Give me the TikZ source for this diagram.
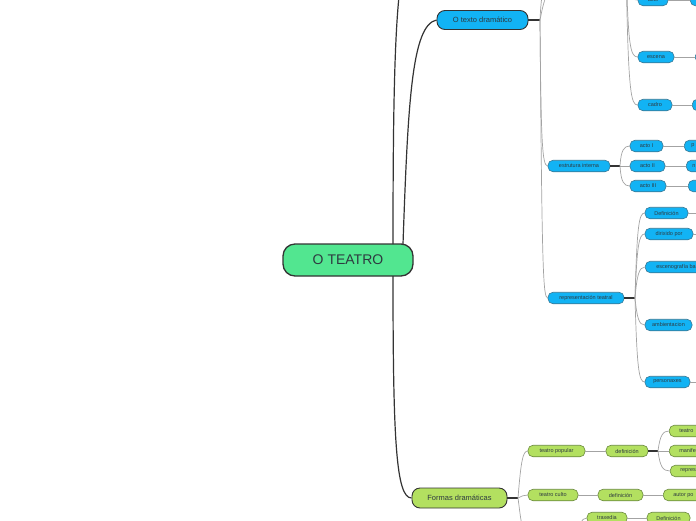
\documentclass[tikz,border=0pt]{standalone}
\usepackage{fontspec}
\setmainfont{Liberation Sans}
\definecolor{rootgreen}{HTML}{52E690}
\definecolor{topicblue}{HTML}{12B3F4}
\definecolor{topicgreen}{HTML}{B3E060}
\definecolor{edgedark}{HTML}{333333}
\definecolor{edgeblue}{HTML}{3A7894}
\definecolor{edgegreen}{HTML}{6A8A3C}
\definecolor{twiggrey}{HTML}{A3A3A3}
\definecolor{labeldark}{HTML}{2E3A40}

\begin{document}
\begin{tikzpicture}[x=1pt,y=-1pt,
    root/.style={draw=edgedark,line width=1.3pt,fill=rootgreen,rounded corners=12pt,
      minimum width=130pt,minimum height=32pt,inner sep=0pt,text=labeldark,
      font=\fontsize{14}{16}\selectfont},
    topic/.style={draw=edgedark,line width=0.9pt,fill=topicblue,rounded corners=8pt,
      minimum height=19pt,inner sep=0pt,text=labeldark,font=\fontsize{7.5}{9}\selectfont},
    gtopic/.style={topic,fill=topicgreen},
    leaf/.style={draw=edgeblue,line width=0.6pt,fill=topicblue,rounded corners=5pt,
      minimum height=11.5pt,inner sep=0pt,text=labeldark,font=\fontsize{5.5}{6.5}\selectfont},
    gleaf/.style={leaf,draw=edgegreen,fill=topicgreen},
    trunk/.style={draw=edgedark,line width=1.2pt},
    twig/.style={draw=twiggrey,line width=0.7pt}]
  % Page frame, the map runs past it on every side.
  \useasboundingbox (0,0) rectangle (696,520);
  \clip (0,0) rectangle (696,520);

  % Root and the two topics in view.
  \node[root] (teatro) at (348,260) {O TEATRO};
  \node[topic,minimum width=91pt] (texto) at (482.5,20) {O texto dramático};
  \node[gtopic,minimum width=95pt,minimum height=20pt] (formas) at (459.5,498) {Formas dramáticas};

  % Blue leaves, upper group (parent is off the page).
  \node[leaf,minimum width=30pt] (acto) at (653,0) {acto};
  \node[leaf,anchor=west,minimum width=40pt] (actonext) at (690,0) {};
  \node[leaf,minimum width=36pt] (escena) at (656,57) {escena};
  \node[leaf,anchor=west,minimum width=40pt] (escenanext) at (695,57) {};
  \node[leaf,minimum width=34pt] (cadro) at (655,105) {cadro};
  \node[leaf,anchor=west,minimum width=40pt] (cadronext) at (692,105) {};

  % Inner structure.
  \node[leaf,minimum width=62pt] (interna) at (579,166) {estrutura interna};
  \node[leaf,minimum width=33pt] (actoI) at (646.5,146) {acto I};
  \node[leaf,minimum width=35pt] (actoII) at (647.5,166) {acto II};
  \node[leaf,minimum width=36pt] (actoIII) at (648,186) {acto III};
  \node[leaf,anchor=west,inner xsep=7pt] (actoInext) at (684,146) {p};
  \node[leaf,anchor=west,inner xsep=6pt] (actoIInext) at (686,166) {n};
  \node[leaf,anchor=west,minimum width=30pt] (actoIIInext) at (688,186) {};

  % Staging.
  \node[leaf,minimum width=76pt] (teatral) at (586,298) {representación teatral};
  \node[leaf,minimum width=43pt] (rdef) at (666.5,213) {Definición};
  \node[leaf,minimum width=48pt] (dirixido) at (669,234) {dirixido por};
  \node[leaf,anchor=west,inner xsep=11pt] (esceno) at (645,267) {escenografía ba};
  \node[leaf,minimum width=47pt] (ambient) at (668.5,325) {ambientacion};
  \node[leaf,minimum width=45pt] (persoa) at (667.5,382) {personaxes};

  % Green leaves.
  \node[gleaf,minimum width=57pt] (popular) at (556.5,451) {teatro popular};
  \node[gleaf,minimum width=42pt] (popdef) at (627,451) {definición};
  \node[gleaf,anchor=west,inner xsep=10pt] (popteatro) at (669,431) {teatro};
  \node[gleaf,anchor=west,inner xsep=10pt] (popmanif) at (669,451) {manife};
  \node[gleaf,anchor=west,inner xsep=10pt] (poprepr) at (670,471) {repres};
  \node[gleaf,minimum width=50pt] (culto) at (553,495) {teatro culto};
  \node[gleaf,minimum width=45pt] (cultdef) at (620.5,495) {definición};
  \node[gleaf,anchor=west,inner xsep=10pt] (autor) at (663,495) {autor po};
  \node[gleaf,minimum width=40pt] (traxedia) at (607,518) {traxedia};
  \node[gleaf,minimum width=43pt] (traxdef) at (668.5,518) {Definición};

  % Joints and loose ends.
  \coordinate (rootup) at (393,244);
  \coordinate (rootside) at (403,244);
  \coordinate (rootdown) at (393,276);
  \coordinate (above) at (408,-50);
  \coordinate (tjoin) at (540,20);
  \coordinate (tup1) at (556,-40);
  \coordinate (tup2) at (566,-30);
  \coordinate (extjoin) at (626,-40);
  \coordinate (ijoin) at (620,166);
  \coordinate (rjoin) at (635,298);
  \coordinate (fjoin) at (518,498);
  \coordinate (fdown) at (535,555);
  \coordinate (djoin) at (658,451);
  \coordinate (trxjoin) at (578,545);
  \coordinate (rdefout) at (700,213);
  \coordinate (dirout) at (700,234);
  \coordinate (persout) at (700,382);

  % Root branches.
  \draw[trunk] (rootup) .. controls (393,60) and (396,-20) .. (above);
  \draw[trunk] (rootside) .. controls (408,100) and (412,25) .. (texto.west);
  \draw[trunk] (rootdown) .. controls (393,440) and (396,498) .. (formas.west);

  % O texto dramático.
  \draw[trunk] (texto.east) -- (tjoin);
  \draw[twig] (tjoin) .. controls (541,0) and (542,-20) .. (tup1);
  \draw[twig] (tjoin) .. controls (543,5) and (546,-15) .. (tup2);
  \draw[twig] (tjoin) .. controls (541,140) and (542,166) .. (interna.west);
  \draw[twig] (tjoin) .. controls (542,270) and (543,298) .. (teatral.west);
  \draw[twig] (extjoin) .. controls (627,-5) and (630,0) .. (acto.west);
  \draw[twig] (extjoin) .. controls (628,45) and (630,57) .. (escena.west);
  \draw[twig] (extjoin) .. controls (628,95) and (631,105) .. (cadro.west);
  \draw[twig] (acto) -- (actonext);
  \draw[twig] (escena) -- (escenanext);
  \draw[twig] (cadro) -- (cadronext);

  \draw[trunk] (interna.east) -- (ijoin);
  \draw[twig] (ijoin) .. controls (621,150) and (624,146) .. (actoI.west);
  \draw[twig] (ijoin) -- (actoII.west);
  \draw[twig] (ijoin) .. controls (621,182) and (624,186) .. (actoIII.west);
  \draw[twig] (actoI) -- (actoInext);
  \draw[twig] (actoII) -- (actoIInext);
  \draw[twig] (actoIII) -- (actoIIInext);

  \draw[trunk] (teatral.east) -- (rjoin);
  \draw[twig] (rjoin) .. controls (637,225) and (639,213) .. (rdef.west);
  \draw[twig] (rjoin) .. controls (637,245) and (639,234) .. (dirixido.west);
  \draw[twig] (rjoin) .. controls (637,275) and (639,267) .. (esceno.west);
  \draw[twig] (rjoin) .. controls (637,318) and (639,325) .. (ambient.west);
  \draw[twig] (rjoin) .. controls (637,370) and (639,382) .. (persoa.west);
  \draw[twig] (rdef) -- (rdefout);
  \draw[twig] (dirixido) -- (dirout);
  \draw[twig] (persoa) -- (persout);

  % Formas dramáticas.
  \draw[trunk] (formas.east) -- (fjoin);
  \draw[twig] (fjoin) .. controls (521,460) and (523,451) .. (popular.west);
  \draw[twig] (fjoin) .. controls (522,496) and (524,495) .. (culto.west);
  \draw[twig] (fjoin) .. controls (521,520) and (522,540) .. (fdown);
  \draw[twig] (popular) -- (popdef);
  \draw[trunk] (popdef.east) -- (djoin);
  \draw[twig] (djoin) .. controls (660,435) and (663,431) .. (popteatro.west);
  \draw[twig] (djoin) -- (popmanif.west);
  \draw[twig] (djoin) .. controls (660,467) and (663,471) .. (poprepr.west);
  \draw[twig] (culto) -- (cultdef);
  \draw[twig] (cultdef) -- (autor);
  \draw[twig] (trxjoin) .. controls (579,525) and (581,518) .. (traxedia.west);
  \draw[twig] (traxedia) -- (traxdef);
\end{tikzpicture}
\end{document}
